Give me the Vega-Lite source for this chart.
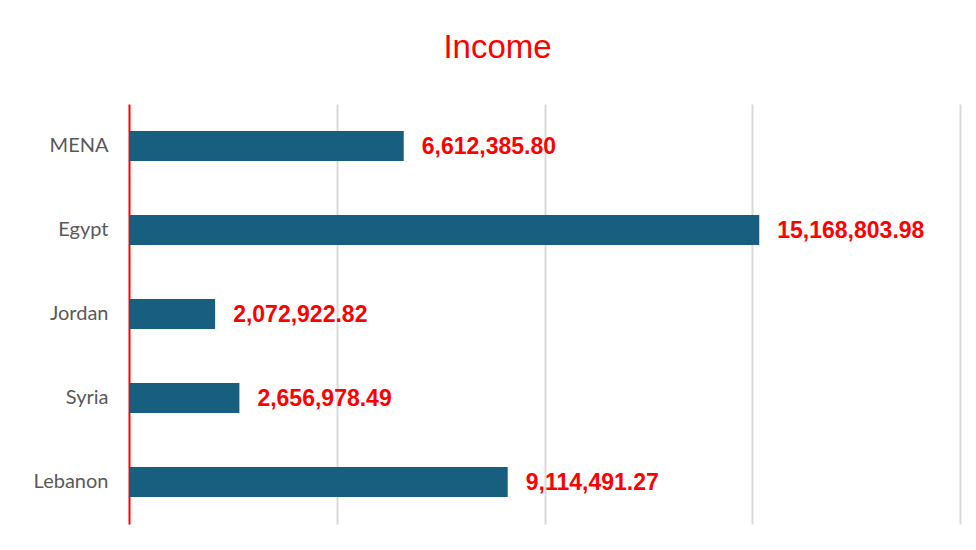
{
  "$schema": "https://vega.github.io/schema/vega-lite/v6.json",
  "width": 831,
  "height": 420,
  "autosize": "none",
  "padding": {"left": 129, "top": 104, "right": 16, "bottom": 26},
  "background": "white",
  "title": {
    "text": "Income",
    "color": "#ff0000",
    "font": "Liberation Sans",
    "fontSize": 33,
    "fontWeight": "normal",
    "anchor": "middle",
    "baseline": "alphabetic",
    "offset": 13,
    "dx": -47
  },
  "data": {
    "values": [
      {"country": "MENA", "income": 6612385.80},
      {"country": "Egypt", "income": 15168803.98},
      {"country": "Jordan", "income": 2072922.82},
      {"country": "Syria", "income": 2656978.49},
      {"country": "Lebanon", "income": 9114491.27}
    ]
  },
  "encoding": {
    "y": {
      "field": "country",
      "type": "nominal",
      "sort": null,
      "scale": {"paddingInner": 0.643, "paddingOuter": 0.3215},
      "axis": {
        "title": null,
        "ticks": false,
        "domainColor": "#ff0000",
        "domainWidth": 2,
        "labelFont": "Lato",
        "labelFontSize": 20,
        "labelColor": "#595959",
        "labelPadding": 21
      }
    },
    "x": {
      "field": "income",
      "type": "quantitative",
      "scale": {"domain": [0, 20000000], "nice": false},
      "axis": {
        "title": null,
        "labels": false,
        "ticks": false,
        "domain": false,
        "values": [5000000, 10000000, 15000000, 20000000],
        "gridColor": "#d9d9d9",
        "gridWidth": 2
      }
    }
  },
  "layer": [
    {"mark": {"type": "bar", "color": "#175e7f"}},
    {
      "mark": {
        "type": "text",
        "align": "left",
        "baseline": "middle",
        "dx": 18,
        "dy": 1,
        "font": "Liberation Sans",
        "fontSize": 23,
        "fontWeight": "bold",
        "color": "#ff0000"
      },
      "encoding": {
        "text": {"field": "income", "type": "quantitative", "format": ",.2f"}
      }
    }
  ],
  "config": {
    "view": {"stroke": null}
  }
}
